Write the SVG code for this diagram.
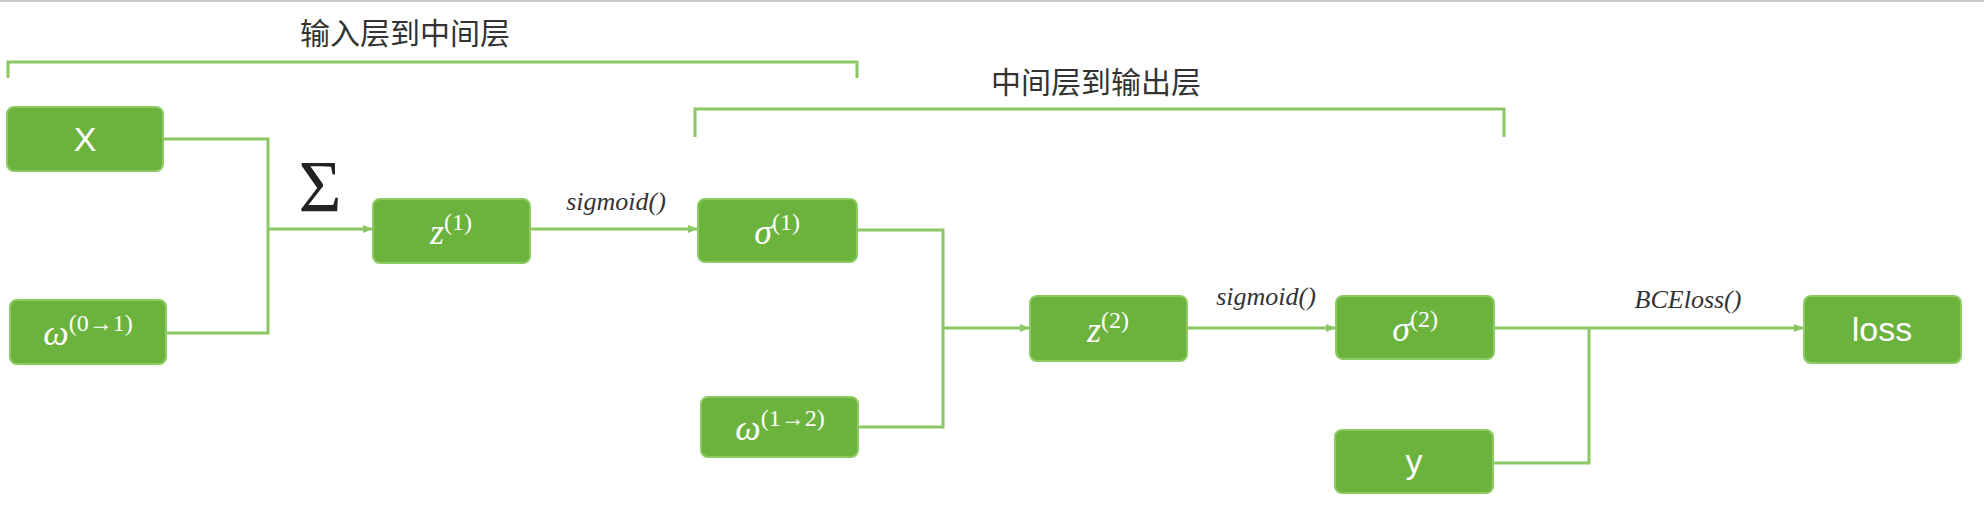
<svg xmlns="http://www.w3.org/2000/svg" width="1984" height="512" viewBox="0 0 1984 512">
<style>
.box{fill:#6cb33e;stroke:#8ccb63;stroke-width:2}
.wire{fill:none;stroke:#8cc665;stroke-width:3}
.t{fill:#fff;font-family:"Liberation Sans",sans-serif;font-size:34px;text-anchor:middle}
.m{fill:#fff;font-family:"Liberation Serif",serif;font-style:italic;font-size:36px;text-anchor:middle}
.sup{font-style:normal;font-size:24px}
.lbl{fill:#333;font-family:"Liberation Serif",serif;font-style:italic;font-size:26px;text-anchor:middle}
.cn{fill:#333;font-family:"Noto Sans CJK SC",sans-serif;font-size:30px;text-anchor:middle}
</style>
<defs><marker id="ar" markerWidth="10" markerHeight="10" refX="9" refY="5" orient="auto" markerUnits="userSpaceOnUse"><path d="M0,1 L10,5 L0,9 z" fill="#8cc665"/></marker></defs>
<rect width="1984" height="512" fill="#fff"/>
<line x1="0" y1="1" x2="1984" y2="1" stroke="#c8ccd2" stroke-width="2"/>
<g id="brackets">
<path class="wire" d="M8,78 V62 H857 V78"/>
<text class="cn" x="405" y="44">输入层到中间层</text>
<path class="wire" d="M695,137 V109 H1504 V137"/>
<text class="cn" x="1096" y="93">中间层到输出层</text>
</g>
<g id="connectors">
<path class="wire" d="M163,139 H268 V333 H166"/>
<path class="wire" d="M268,229 H372" marker-end="url(#ar)"/>
<path class="wire" d="M530,229 H697" marker-end="url(#ar)"/>
<path class="wire" d="M857,230 H943 V427 H858"/>
<path class="wire" d="M943,328 H1029" marker-end="url(#ar)"/>
<path class="wire" d="M1187,328 H1335" marker-end="url(#ar)"/>
<path class="wire" d="M1494,328 H1803" marker-end="url(#ar)"/>
<path class="wire" d="M1493,463 H1589 V328"/>
<text x="320" y="212" font-family="Liberation Serif,serif" font-size="74" fill="#222" text-anchor="middle">Σ</text>
<text class="lbl" x="616" y="210">sigmoid()</text>
<text class="lbl" x="1266" y="305">sigmoid()</text>
<text class="lbl" x="1688" y="308">BCEloss()</text>
</g>
<g id="X"><rect class="box" x="7" y="107" width="156" height="64" rx="7"/><text class="t" x="85" y="151">X</text></g>
<g id="w01"><rect class="box" x="10" y="300" width="156" height="64" rx="7"/><text class="m" x="88" y="345">ω<tspan class="sup" dy="-14">(0→1)</tspan></text></g>
<g id="z1"><rect class="box" x="373" y="199" width="157" height="64" rx="7"/><text class="m" x="451" y="244">z<tspan class="sup" dy="-14">(1)</tspan></text></g>
<g id="s1"><rect class="box" x="698" y="199" width="159" height="63" rx="7"/><text class="m" x="777" y="244">σ<tspan class="sup" dy="-14">(1)</tspan></text></g>
<g id="w12"><rect class="box" x="701" y="397" width="157" height="60" rx="7"/><text class="m" x="780" y="440">ω<tspan class="sup" dy="-14">(1→2)</tspan></text></g>
<g id="z2"><rect class="box" x="1030" y="296" width="157" height="65" rx="7"/><text class="m" x="1108" y="342">z<tspan class="sup" dy="-14">(2)</tspan></text></g>
<g id="s2"><rect class="box" x="1336" y="296" width="158" height="63" rx="7"/><text class="m" x="1415" y="341">σ<tspan class="sup" dy="-14">(2)</tspan></text></g>
<g id="loss"><rect class="box" x="1804" y="296" width="157" height="67" rx="7"/><text class="t" x="1882" y="341">loss</text></g>
<g id="y"><rect class="box" x="1335" y="430" width="158" height="63" rx="7"/><text class="t" x="1414" y="473">y</text></g>
</svg>
